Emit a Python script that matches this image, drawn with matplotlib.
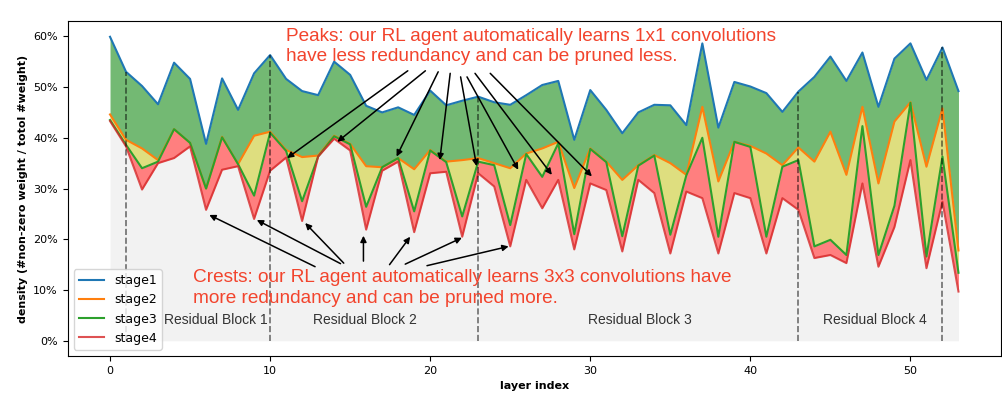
import matplotlib
matplotlib.use('Agg')
import matplotlib.pyplot as plt
from matplotlib.ticker import PercentFormatter
import numpy as np

# density (%) per layer for each pruning stage
stage1 = [59.9, 53.0, 50.2, 46.6, 54.8, 51.6, 38.8, 51.7, 45.5, 52.7,
          56.3, 51.6, 49.2, 48.4, 55.0, 52.4, 46.3, 45.0, 46.0, 44.5,
          49.3, 46.4, 47.3, 48.1, 47.0, 46.5, 48.4, 50.4, 51.2, 39.6,
          49.4, 45.5, 40.9, 45.0, 46.5, 46.4, 42.5, 58.6, 42.0, 51.0,
          50.1, 48.8, 45.1, 49.1, 52.0, 56.0, 51.2, 56.8, 46.1, 55.6,
          58.6, 51.4, 57.8, 49.2]
stage2 = [44.6, 39.6, 37.9, 35.6, 41.7, 39.0, 30.0, 40.2, 34.8, 40.4,
          41.2, 37.6, 36.2, 36.5, 40.4, 38.8, 34.4, 34.2, 36.0, 33.8,
          37.6, 35.3, 35.6, 36.0, 35.0, 34.0, 36.9, 37.9, 39.2, 30.1,
          37.9, 35.3, 31.7, 34.6, 36.6, 35.0, 32.7, 46.1, 31.4, 39.2,
          38.4, 36.9, 34.6, 38.1, 35.3, 41.2, 32.7, 46.1, 31.0, 43.2,
          47.0, 34.3, 45.8, 17.8]
stage3 = [43.5, 38.6, 34.0, 35.3, 41.7, 39.0, 30.0, 40.1, 34.8, 28.6,
          41.0, 37.4, 27.5, 36.3, 40.3, 38.7, 26.4, 34.2, 36.0, 25.5,
          37.5, 35.2, 24.5, 35.3, 34.6, 22.8, 36.8, 32.3, 38.9, 21.0,
          37.8, 35.2, 20.6, 34.5, 36.5, 20.9, 32.6, 40.0, 20.5, 39.2,
          38.2, 20.5, 34.3, 35.6, 18.6, 19.9, 16.9, 42.3, 16.9, 26.6,
          46.9, 16.6, 36.3, 13.4]
stage4 = [43.3, 38.3, 29.8, 35.0, 36.0, 38.3, 25.8, 33.7, 34.4, 24.0,
          33.5, 36.1, 23.6, 36.3, 39.8, 37.5, 21.9, 33.5, 35.3, 21.4,
          33.0, 33.3, 20.5, 33.0, 30.4, 18.6, 31.7, 26.1, 31.7, 18.0,
          31.0, 29.7, 17.6, 31.7, 29.1, 17.2, 29.4, 28.1, 17.2, 29.1,
          28.1, 17.2, 28.1, 25.8, 16.3, 16.9, 15.3, 31.0, 14.6, 22.4,
          35.6, 14.3, 27.4, 9.7]

block_bounds = [1, 10, 23, 43, 52]
block_names = ['Residual Block 1', 'Residual Block 2', 'Residual Block 3', 'Residual Block 4']
block_label_x = [6.6, 15.9, 33.1, 47.8]

peak_heads = [(11.06, 36.0), (14.2, 39.2), (17.9, 36.3), (20.6, 35.6),
              (22.9, 34.4), (25.5, 33.7), (27.6, 32.7), (30.1, 32.4)]
peak_tails = [(18.6, 53.2), (19.7, 53.2), (20.5, 53.0), (21.25, 52.7),
              (21.9, 52.0), (22.3, 52.0), (22.8, 52.7), (23.75, 52.7)]
crest_heads = [(6.2, 24.8), (9.17, 23.8), (12.19, 23.2), (15.83, 20.7),
               (18.75, 20.5), (21.98, 20.3), (24.9, 18.6)]
crest_tails = [(12.81, 14.6), (14.4, 15.2), (14.6, 15.3), (15.83, 15.7),
               (17.46, 15.0), (18.44, 15.1), (19.8, 14.8)]

layers = np.arange(len(stage1))
s1, s2, s3, s4 = (np.array(s) for s in (stage1, stage2, stage3, stage4))

fig = plt.figure(figsize=(10.03, 3.95), dpi=100)
ax = fig.add_axes([0.0674, 0.0987, 0.9305, 0.848])

ax.fill_between(layers, 0, s4, color='gray', alpha=0.1, lw=0)
ax.fill_between(layers, s1, s2, color='g', alpha=0.55, lw=0)
ax.fill_between(layers, s2, s3, color='y', alpha=0.5, lw=0)
ax.fill_between(layers, s3, s4, color='r', alpha=0.5, lw=0)

ax.plot(layers, s1, color='tab:blue', lw=1.5, label='stage1')
ax.plot(layers, s2, color='tab:orange', lw=1.5, label='stage2')
ax.plot(layers, s3, color='tab:green', lw=1.5, label='stage3')
ax.plot(layers, s4, color='tab:red', lw=1.5, alpha=0.8, label='stage4')

for b in block_bounds:
    ax.vlines(b, 0, s1[b], colors='k', linestyles='--', lw=1.2, alpha=0.55)

for name, bx in zip(block_names, block_label_x):
    ax.text(bx, 4.1, name, ha='center', va='center', fontsize=10,
            color='#333333', family='Liberation Sans')

red_txt = '#f2442d'
ax.text(11.0, 58.0, 'Peaks: our RL agent automatically learns 1x1 convolutions\n'
        'have less redundancy and can be pruned less.',
        ha='left', va='center', fontsize=13.7, linespacing=1.25,
        color=red_txt, family='Liberation Sans')
ax.text(5.2, 10.4, 'Crests: our RL agent automatically learns 3x3 convolutions have\n'
        'more redundancy and can be pruned more.',
        ha='left', va='center', fontsize=13.7, linespacing=1.25,
        color=red_txt, family='Liberation Sans')

for head, tail in zip(peak_heads + crest_heads, peak_tails + crest_tails):
    ax.annotate('', xy=head, xytext=tail,
                arrowprops=dict(arrowstyle='-|>', color='k', lw=1.1,
                                mutation_scale=9, shrinkA=0, shrinkB=0))

ax.yaxis.set_major_formatter(PercentFormatter(xmax=100, decimals=0))
ax.set_yticks([0, 10, 20, 30, 40, 50, 60])
ax.set_ylim(-3, 63)
ax.set_xlim(-2.65, 55.65)
ax.tick_params(labelsize=8)
ax.set_xlabel('layer index', fontsize=8, fontweight='bold')
ax.set_ylabel('density (#non-zero weight / totol #weight)', fontsize=8, fontweight='bold')
ax.legend(loc='lower left', fontsize=9)

fig.savefig('out.png', dpi=100)
